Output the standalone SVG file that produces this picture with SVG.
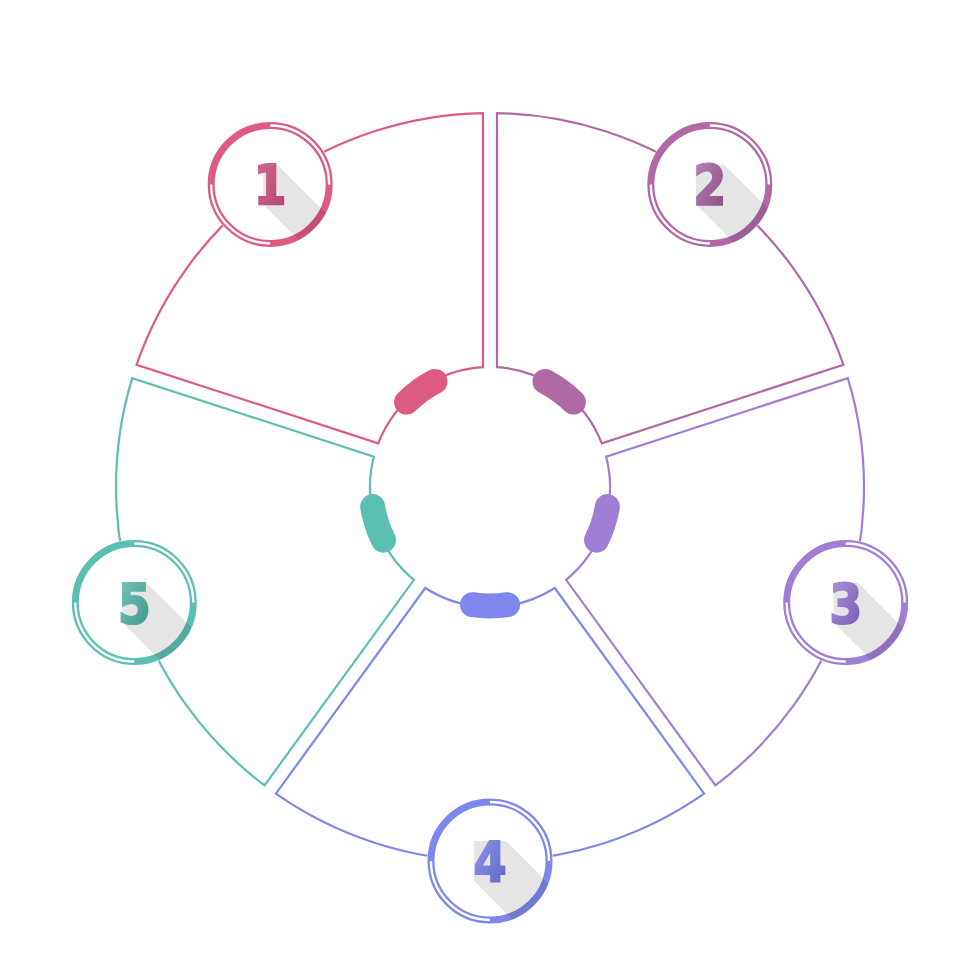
<svg xmlns="http://www.w3.org/2000/svg" width="980" height="980" viewBox="0 0 980 980">
<defs>
<style>
.seg{fill:none;stroke-width:2.2;stroke-linejoin:miter}
.bar{fill:none;stroke-width:25;stroke-linecap:round}
.disc{fill:#fff}
.ring{fill:none;stroke-width:7}
.stripe{fill:none;stroke:#fff;stroke-width:2.4}
.shadow{fill:#000;fill-opacity:0.1}
.num{font-family:"DejaVu Sans","Liberation Sans",sans-serif;font-weight:bold;font-size:56px;text-anchor:middle;stroke-width:2;stroke-linejoin:miter}
</style>
<clipPath id="badgeClip" clipPathUnits="userSpaceOnUse"><circle cx="0" cy="0" r="62.5"/></clipPath>
<linearGradient id="g1" x1="0" y1="0" x2="1" y2="1"><stop offset="0" stop-color="#d66c93"/><stop offset="1" stop-color="#b3416b"/></linearGradient>
<linearGradient id="g2" x1="0" y1="0" x2="1" y2="1"><stop offset="0" stop-color="#bd86b5"/><stop offset="1" stop-color="#874880"/></linearGradient>
<linearGradient id="g3" x1="0" y1="0" x2="1" y2="1"><stop offset="0" stop-color="#b098de"/><stop offset="1" stop-color="#7554b2"/></linearGradient>
<linearGradient id="g4" x1="0" y1="0" x2="1" y2="1"><stop offset="0" stop-color="#959cee"/><stop offset="1" stop-color="#5a61c2"/></linearGradient>
<linearGradient id="g5" x1="0" y1="0" x2="1" y2="1"><stop offset="0" stop-color="#79c9be"/><stop offset="1" stop-color="#3a9487"/></linearGradient>
</defs>
<rect width="980" height="980" fill="#fff"/>

<g id="node1">
<path class="seg" stroke="#dd5a80" d="M 136.53 364.79 A 374 374 0 0 1 483 113.07 L 483 367.2 A 120 120 0 0 0 378.22 443.32 Z"/>
<path class="bar" stroke="#dd5a80" d="M 406.59 402.12 A 119 119 0 0 1 435.05 381.45"/>
<g transform="translate(270.17,184.43)">
<circle class="disc" r="63"/>
<circle class="ring" stroke="#dd5a80" r="59"/>
<path class="stripe" d="M 0 -59 A 59 59 0 0 1 59 0 M 0 59 A 59 59 0 0 1 -59 0"/>
<polygon class="shadow" clip-path="url(#badgeClip)" points="-7,-20 7,-20 107,80 93,120 -7,20"/>
<text class="num" fill="url(#g1)" stroke="url(#g1)" transform="translate(0,20) scale(0.85,1)">1</text>
</g>
</g>

<g id="node2">
<path class="seg" stroke="#b169a6" d="M 497 113.07 A 374 374 0 0 1 843.47 364.79 L 601.78 443.32 A 120 120 0 0 0 497 367.2 Z"/>
<path class="bar" stroke="#b169a6" d="M 544.95 381.45 A 119 119 0 0 1 573.41 402.12"/>
<g transform="translate(709.83,184.43)">
<circle class="disc" r="63"/>
<circle class="ring" stroke="#b169a6" r="59"/>
<path class="stripe" d="M 0 -59 A 59 59 0 0 1 59 0 M 0 59 A 59 59 0 0 1 -59 0"/>
<polygon class="shadow" clip-path="url(#badgeClip)" points="-14,-20 14,-20 114,80 86,120 -14,20"/>
<text class="num" fill="url(#g2)" stroke="url(#g2)" transform="translate(0,20) scale(0.85,1)">2</text>
</g>
</g>

<g id="node3">
<path class="seg" stroke="#a07ed6" d="M 847.79 378.11 A 374 374 0 0 1 715.45 785.40 L 566.08 579.81 A 120 120 0 0 0 606.10 456.64 Z"/>
<path class="bar" stroke="#a07ed6" d="M 607.37 506.64 A 119 119 0 0 1 596.50 540.10"/>
<g transform="translate(845.70,602.57)">
<circle class="disc" r="63"/>
<circle class="ring" stroke="#a07ed6" r="59"/>
<path class="stripe" d="M 0 -59 A 59 59 0 0 1 59 0 M 0 59 A 59 59 0 0 1 -59 0"/>
<polygon class="shadow" clip-path="url(#badgeClip)" points="-12,-20 12,-20 112,80 88,120 -12,20"/>
<text class="num" fill="url(#g3)" stroke="url(#g3)" transform="translate(0,20) scale(0.85,1)">3</text>
</g>
</g>

<g id="node4">
<path class="seg" stroke="#7e87eb" d="M 704.13 793.63 A 374 374 0 0 1 275.87 793.63 L 425.25 588.03 A 120 120 0 0 0 554.75 588.03 Z"/>
<path class="bar" stroke="#7e87eb" d="M 507.59 604.69 A 119 119 0 0 1 472.41 604.69"/>
<g transform="translate(490,861)">
<circle class="disc" r="63"/>
<circle class="ring" stroke="#7e87eb" r="59"/>
<path class="stripe" d="M 0 -59 A 59 59 0 0 1 59 0 M 0 59 A 59 59 0 0 1 -59 0"/>
<polygon class="shadow" clip-path="url(#badgeClip)" points="-16,-20 16,-20 116,80 84,120 -16,20"/>
<text class="num" fill="url(#g4)" stroke="url(#g4)" transform="translate(0,20) scale(0.85,1)">4</text>
</g>
</g>

<g id="node5">
<path class="seg" stroke="#5bbfb1" d="M 264.55 785.40 A 374 374 0 0 1 132.21 378.11 L 373.90 456.64 A 120 120 0 0 0 413.92 579.81 Z"/>
<path class="bar" stroke="#5bbfb1" d="M 383.50 540.10 A 119 119 0 0 1 372.63 506.64"/>
<g transform="translate(134.30,602.57)">
<circle class="disc" r="63"/>
<circle class="ring" stroke="#5bbfb1" r="59"/>
<path class="stripe" d="M 0 -59 A 59 59 0 0 1 59 0 M 0 59 A 59 59 0 0 1 -59 0"/>
<polygon class="shadow" clip-path="url(#badgeClip)" points="-12,-20 12,-20 112,80 88,120 -12,20"/>
<text class="num" fill="url(#g5)" stroke="url(#g5)" transform="translate(0,20) scale(0.85,1)">5</text>
</g>
</g>
</svg>
